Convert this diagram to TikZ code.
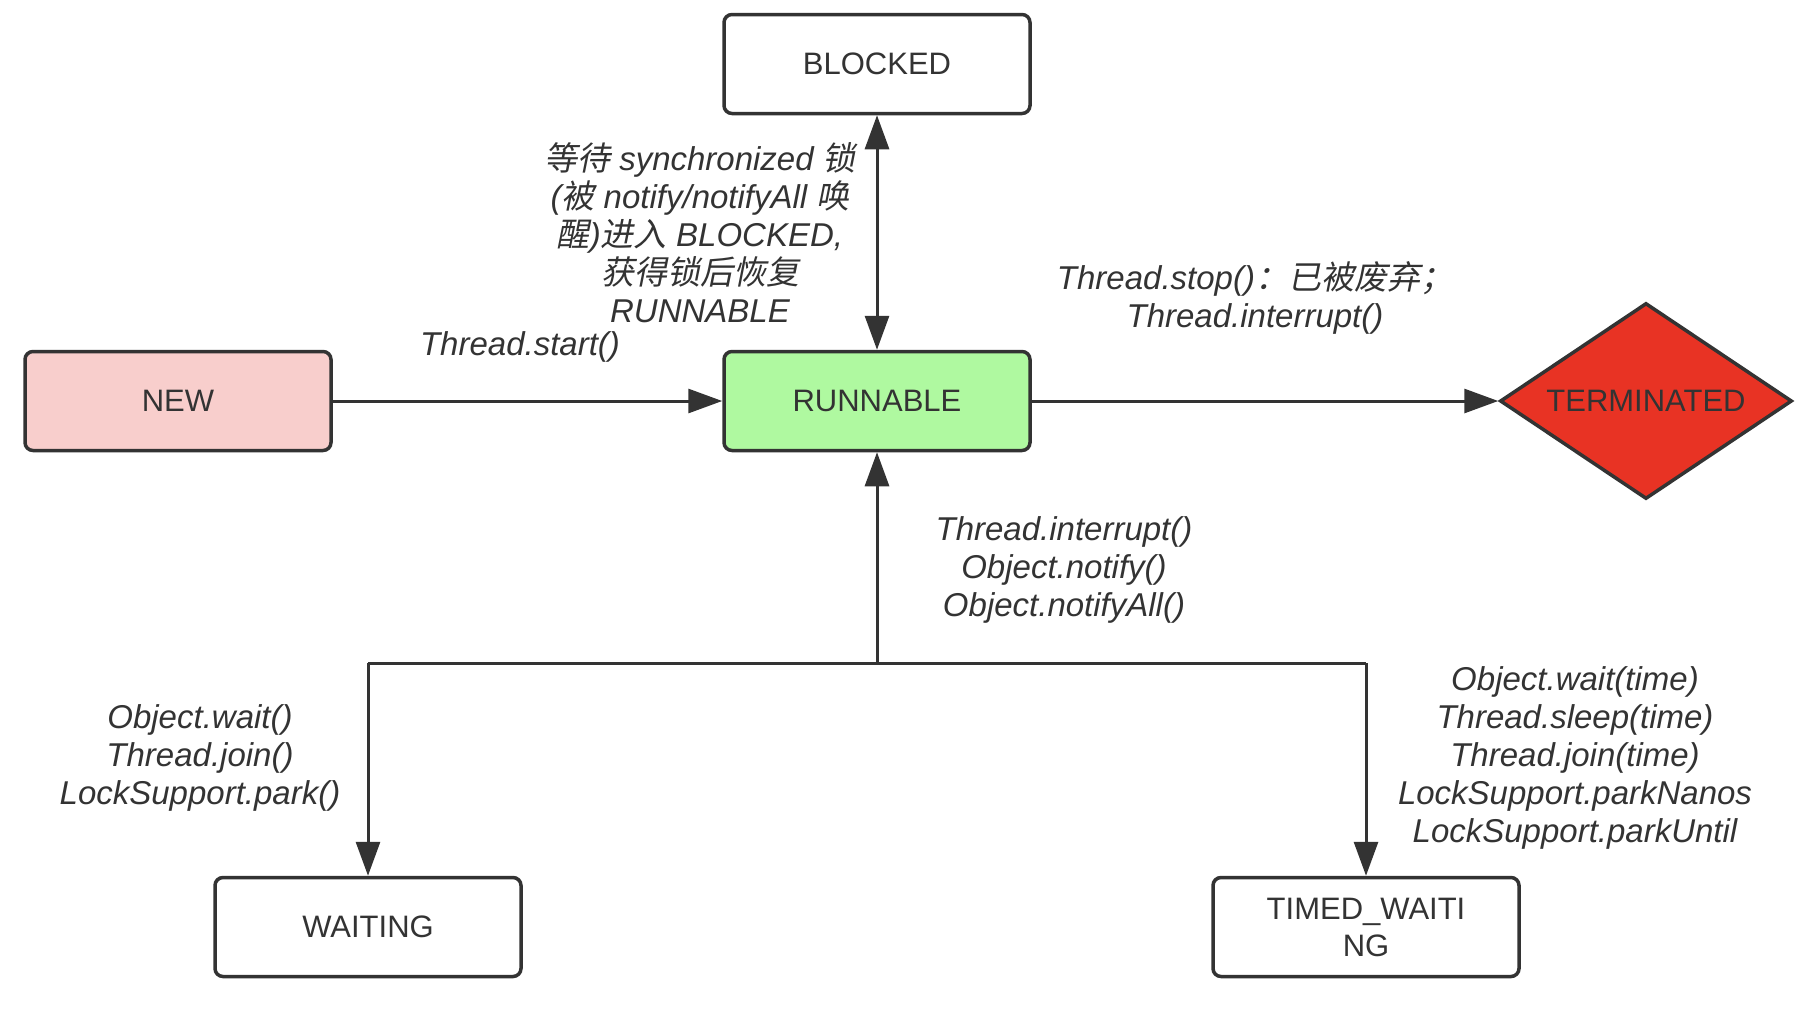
\documentclass[tikz,border=0pt]{standalone}
\usepackage{fontspec}
\setmainfont{Liberation Sans}
\newfontfamily\cjk{Noto Sans CJK SC}[FakeSlant=0.2]
\usetikzlibrary{arrows.meta,shapes.geometric}
\definecolor{ink}{HTML}{333333}
\definecolor{newfill}{HTML}{F8CECC}
\definecolor{runfill}{HTML}{AFF9A0}
\definecolor{termfill}{HTML}{E83324}
\newcommand{\zh}[1]{{\cjk #1}}
\begin{document}
\begin{tikzpicture}[x=1pt,y=-1pt,
  state/.style={draw=ink, line width=3.5pt, rounded corners=8pt, minimum width=306pt,
    minimum height=99pt, font=\fontsize{31}{37}\selectfont, text=ink, inner sep=0pt, align=center},
  conn/.style={draw=ink, line width=3pt},
  arr/.style={conn, -{Triangle[length=34pt,width=24pt]}},
  darr/.style={conn, {Triangle[length=34pt,width=24pt]}-{Triangle[length=34pt,width=24pt]}},
  lab/.style={font=\fontsize{33}{38}\selectfont\itshape, text=ink, align=center, inner sep=0pt}]
\useasboundingbox (0,0) rectangle (1814,1034);
\fill[white] (0,0) rectangle (1814,1034);

% states
\node[state] (B) at (877,64) {BLOCKED};
\node[state, fill=newfill] (N) at (178,401) {NEW};
\node[state, fill=runfill] (R) at (877,401) {RUNNABLE};
\node[draw=ink, line width=3.5pt, fill=termfill, shape=diamond, aspect=1.49,
  minimum width=292pt, minimum height=196pt, inner sep=0pt,
  font=\fontsize{31}{37}\selectfont, text=ink] (T) at (1646,401) {TERMINATED};
\node[state] (W) at (368,927) {WAITING};
\node[state] (TW) at (1366,927) {TIMED\_WAITI\\NG};

% junction
\coordinate (J) at (R.center |- 0,663);
\coordinate (JL) at (W.center |- 0,663);
\coordinate (JR) at (TW.center |- 0,663);

% connectors
\draw[arr] (N.east) -- (R.west);
\draw[arr] (R.east) -- (T.west);
\draw[darr] (R.north) -- (B.south);
\draw[arr] (J) -- (R.south);
\draw[conn] (JL) -- (JR);
\draw[arr] (JL) -- (W.north);
\draw[arr] (JR) -- (TW.north);

% labels
\node[lab] (lblk) at (700,233) {\zh{等待} synchronized \zh{锁}\\(\zh{被} notify/notifyAll \zh{唤}\\\zh{醒})\zh{进入} BLOCKED,\\\zh{获得锁后恢复}\\RUNNABLE};
\node[lab] (lstart) at (520,347) {Thread.start()};
\node[lab] (lstop) at (1255,298) {Thread.stop()\zh{：已被废弃；}\\Thread.interrupt()};
\node[lab] (lint) at (1064,570) {Thread.interrupt()\\Object.notify()\\Object.notifyAll()};
\node[lab] (lwait) at (200,758) {Object.wait()\\Thread.join()\\LockSupport.park()};
\node[lab] (ltw) at (1575,758) {Object.wait(time)\\Thread.sleep(time)\\Thread.join(time)\\LockSupport.parkNanos\\LockSupport.parkUntil};
\end{tikzpicture}
\end{document}
